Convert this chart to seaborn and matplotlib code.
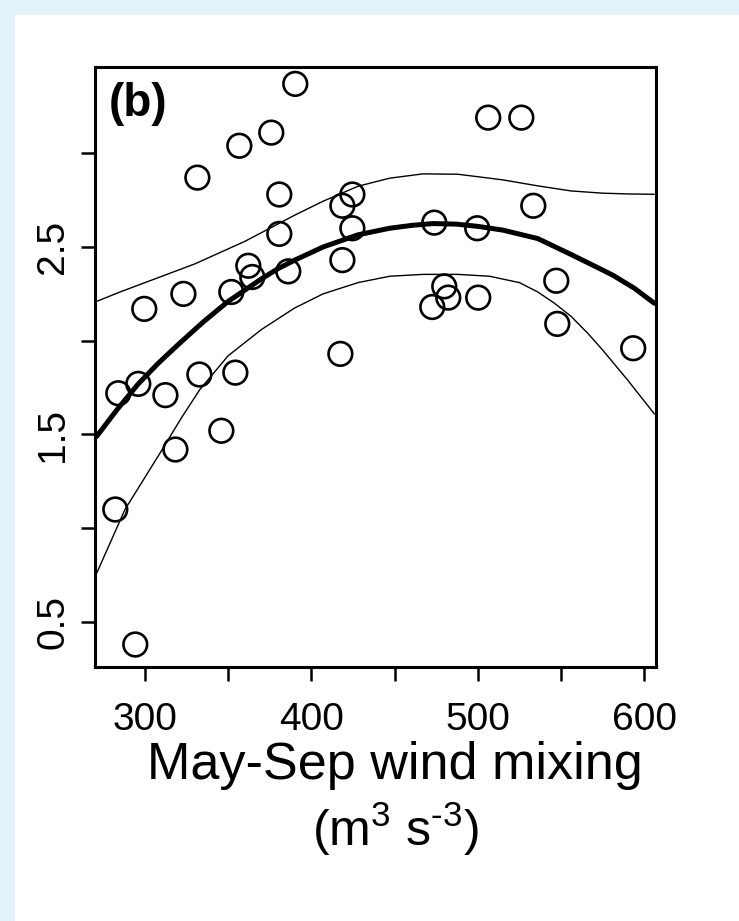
import matplotlib
matplotlib.use("Agg")
import matplotlib.pyplot as plt
from matplotlib.patches import Rectangle
import seaborn as sns
import pandas as pd

# observed points (wind mixing vs response)
wind = [390.3, 506.2, 526.1, 375.9, 356.7, 331.5, 380.7, 424.6, 418.6, 533.3,
        380.7, 424.6, 473.8, 499.6, 362.1, 418.6, 364.5, 386.1, 323.1, 351.9,
        299.6, 479.8, 482.2, 472.6, 500.2, 547.1, 547.7, 593.3, 417.4, 284.0,
        296.0, 312.3, 332.7, 354.3, 345.9, 318.3, 282.2, 294.2]
resp = [3.37, 3.19, 3.19, 3.11, 3.04, 2.87, 2.78, 2.78, 2.72, 2.72,
        2.57, 2.60, 2.63, 2.60, 2.40, 2.43, 2.34, 2.37, 2.25, 2.26,
        2.17, 2.29, 2.23, 2.18, 2.23, 2.32, 2.09, 1.96, 1.93, 1.72,
        1.77, 1.71, 1.82, 1.83, 1.52, 1.42, 1.10, 0.38]

# fitted curve and confidence limits
fit_x = [271, 283, 296, 308, 320, 335, 350, 360, 370, 380, 390, 407, 428, 447, 460,
         473, 487, 500, 515, 536, 556, 572, 581, 594, 606]
fit_y = [1.49, 1.63, 1.77, 1.88, 1.98, 2.10, 2.21, 2.27, 2.33, 2.385, 2.43, 2.50, 2.565, 2.60, 2.615,
         2.625, 2.622, 2.61, 2.59, 2.545, 2.46, 2.39, 2.35, 2.28, 2.20]
upper_x = [271, 285, 300, 315, 330, 345, 360, 375, 390, 407, 428, 447, 467, 488,
           507, 515, 536, 556, 575, 590, 606]
upper_y = [2.21, 2.26, 2.31, 2.36, 2.41, 2.47, 2.53, 2.60, 2.67, 2.744, 2.824, 2.867, 2.89, 2.888,
           2.867, 2.858, 2.826, 2.799, 2.787, 2.783, 2.781]
lower_x = [271, 288, 309, 322, 333, 350, 370, 390, 407, 428, 447, 467, 488, 507, 525,
           536, 546, 556, 566, 575, 590, 606]
lower_y = [0.76, 1.10, 1.40, 1.59, 1.74, 1.92, 2.06, 2.175, 2.25, 2.31, 2.344, 2.354, 2.354, 2.344, 2.31,
           2.26, 2.20, 2.13, 2.04, 1.95, 1.79, 1.61]

yticks = [0.5, 1.0, 1.5, 2.0, 2.5, 3.0]
ytick_labels = ["0.5", "", "1.5", "", "2.5", ""]
xticks = [300, 350, 400, 450, 500, 550, 600]
xtick_labels = ["300", "", "400", "", "500", "", "600"]

sns.set_style("ticks")
plt.rcParams["font.family"] = ["Liberation Sans", "DejaVu Sans"]
plt.rcParams["mathtext.fontset"] = "custom"
plt.rcParams["mathtext.rm"] = "Liberation Sans"
plt.rcParams["mathtext.default"] = "regular"
plt.rcParams["text.color"] = "black"
plt.rcParams["xtick.color"] = "black"
plt.rcParams["ytick.color"] = "black"

fig = plt.figure(figsize=(7.39, 9.21), dpi=100, facecolor="#e2f3fb")
fig.patches.append(Rectangle((15 / 739, 0), 1, 1 - 15 / 921, transform=fig.transFigure,
                             facecolor="white", edgecolor="none", zorder=-5))

ax = fig.add_axes([95 / 739, 1 - 667 / 921, 561 / 739, 600 / 921])
ax.set_facecolor("white")

df = pd.DataFrame({"wind": wind, "resp": resp})
sns.scatterplot(data=df, x="wind", y="resp", ax=ax, marker="o", s=290,
                facecolor="none", edgecolor="black", linewidth=1.9, color="black", zorder=3)

sns.lineplot(x=fit_x, y=fit_y, ax=ax, color="black", lw=3.6, zorder=2)
sns.lineplot(x=upper_x, y=upper_y, ax=ax, color="black", lw=1.0, zorder=2)
sns.lineplot(x=lower_x, y=lower_y, ax=ax, color="black", lw=1.0, zorder=2)

ax.set_xlim(270, 607)
ax.set_ylim(0.26, 3.46)
ax.set_xticks(xticks)
ax.set_xticklabels(xtick_labels)
ax.set_yticks(yticks)
ax.set_yticklabels(ytick_labels, rotation=90, va="center")
ax.tick_params(axis="both", length=10, width=1.8, color="black", labelcolor="black", labelsize=28)
ax.tick_params(axis="x", pad=15)
ax.tick_params(axis="y", pad=7)
for sp in ax.spines.values():
    sp.set_visible(True)
    sp.set_linewidth(2.2)
    sp.set_color("black")
ax.set_xlabel("")
ax.set_ylabel("")

ax.text(0.025, 0.975, "(b)", transform=ax.transAxes, fontsize=33, fontweight="bold",
        ha="left", va="top")

fig.text(395 / 739, 1 - 765 / 921, "May-Sep wind mixing", fontsize=37.5, ha="center", va="center")
fig.text(395 / 739, 1 - 829 / 921, r"(m$^{3}$ s$^{\text{-}3}$)", fontsize=36, ha="center", va="center")

fig.savefig("out.png", dpi=100, facecolor=fig.get_facecolor())
